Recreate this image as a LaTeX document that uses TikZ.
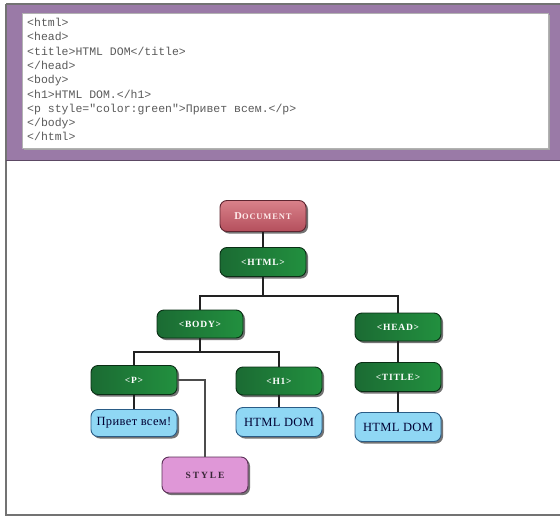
\documentclass[tikz,border=0pt]{standalone}
\usepackage{fontspec}
\setmainfont{Liberation Serif}
\newfontfamily\codefont{Liberation Mono}
\usetikzlibrary{shadows}
\definecolor{bandpurple}{HTML}{9A7AA7}
\definecolor{codegray}{HTML}{5A5A5A}
\definecolor{gleft}{HTML}{1B6B33}
\definecolor{gmid}{HTML}{3AD466}
\definecolor{gright}{HTML}{22903F}
\definecolor{gedge}{HTML}{0A2E15}
\definecolor{doctop}{HTML}{D9818A}
\definecolor{docbot}{HTML}{B44F5C}
\definecolor{docedge}{HTML}{5E2530}
\definecolor{lblue}{HTML}{8FD7F4}
\definecolor{lblueedge}{HTML}{2A5C86}
\definecolor{lilac}{HTML}{DF97D7}
\definecolor{lilacedge}{HTML}{5A2F56}
\definecolor{wire}{HTML}{222222}
\tikzset{
  basebox/.style={rounded corners=7pt, minimum width=86pt, minimum height=29pt,
    inner sep=0pt, line width=0.9pt,
    drop shadow={shadow xshift=2pt, shadow yshift=-2pt, fill=black, opacity=0.55}},
  greenbox/.style={basebox, draw=gedge, left color=gleft, middle color=gmid, right color=gright,
    text=white, font=\fontsize{9.5}{9}\selectfont\bfseries\addfontfeature{LetterSpace=8}},
  docbox/.style={basebox, draw=docedge, top color=doctop, bottom color=docbot, minimum height=31pt,
    text=white!92!red, font=\fontsize{8.5}{9}\selectfont\bfseries\addfontfeature{LetterSpace=10}},
  bluebox/.style={basebox, draw=lblueedge, fill=lblue, text=black!80!blue,
    font=\fontsize{12.5}{13}\selectfont\addfontfeature{LetterSpace=3}},
  lilacbox/.style={basebox, draw=lilacedge, fill=lilac, minimum height=36pt, text=black!75!lilac,
    font=\fontsize{9.5}{10}\selectfont\bfseries\addfontfeature{LetterSpace=20}},
  wireline/.style={draw=wire, line width=2.6pt},
  thinwire/.style={draw=black!70, line width=1.1pt}
}
\begin{document}
\begin{tikzpicture}[x=1pt,y=-1pt]
\useasboundingbox (0,0) rectangle (560,517);
% frame and code panel
\fill[white] (0,0) rectangle (560,517);
\fill[bandpurple] (6,4) rectangle (562,160);
\draw[black!55, line width=1.2pt] (6,4) -- (562,4);
\draw[black!55, line width=1.2pt] (6,4) -- (6,515) -- (562,515);
\draw[bandpurple!60!black, line width=0.8pt] (6,160) -- (562,160);
\fill[black!35] (24,15) rectangle (550,150);
\draw[fill=white, draw=black!30, line width=0.6pt] (22,13) rectangle (548,148);
\node[anchor=north west, inner sep=0pt, align=left, text=codegray,
      font=\codefont\fontsize{11.5}{14.3}\selectfont] (code) at (27,18)
{<html>\\
<head>\\
<title>HTML DOM</title>\\
</head>\\
<body>\\
<h1>HTML DOM.</h1>\\
<p style="color:green">Привет всем.</p>\\
</body>\\
</html>};
% tree nodes
\node[docbox] (doc) at (263,216) {{\fontsize{10.5}{10}\selectfont D}OCUMENT};
\node[greenbox] (html) at (263,262) {<HTML>};
\node[greenbox, minimum height=28pt] (body) at (200,324) {<BODY>};
\node[greenbox, minimum height=28pt] (head) at (398,327) {<HEAD>};
\node[greenbox] (p) at (134,380) {<P>};
\node[greenbox, minimum height=28pt] (h1) at (279,381) {<H1>};
\node[greenbox] (title) at (398,377) {<TITLE>};
\node[bluebox, minimum height=27pt] (privet) at (134,423) {Привет всем!};
\node[bluebox] (dom1) at (279,422) {HTML DOM};
\node[bluebox] (dom2) at (398,427) {HTML DOM};
\node[lilacbox] (style) at (205,475) {STYLE};
% connectors
\coordinate (busA) at (263,296);
\coordinate (busB) at (200,352);
\path[wireline] (doc) -- (html);
\path[wireline] (html) -- (busA);
\path[wireline] (body) |- (busA) -| (head);
\path[wireline] (body) -- (busB);
\path[wireline] (p) |- (busB) -| (h1);
\path[wireline] (p) -- (privet);
\path[wireline] (h1) -- (dom1);
\path[wireline] (head) -- (title);
\path[wireline] (title) -- (dom2);
\path[thinwire] (p.east) -| (style);
\end{tikzpicture}
\end{document}
